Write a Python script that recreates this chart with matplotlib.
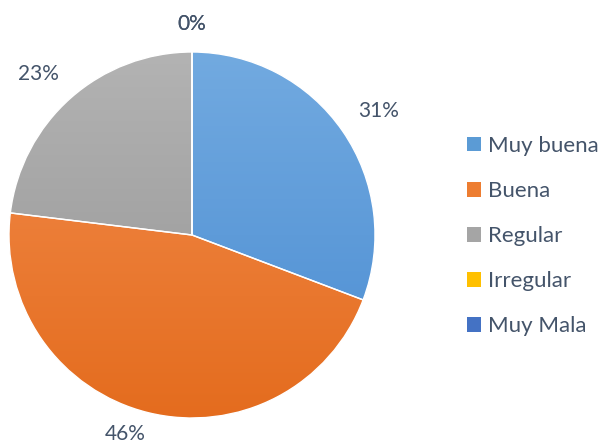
import numpy as np
import matplotlib
matplotlib.use("Agg")
import matplotlib.pyplot as plt
from matplotlib.colors import LinearSegmentedColormap
from matplotlib.patches import Patch

categories = ["Muy buena", "Buena", "Regular", "Irregular", "Muy Mala"]
counts = [4, 6, 3, 0, 0]
# gradient (top, bottom) colours per category
top_colors = ["#72AAE0", "#F38D4E", "#B3B3B3", "#FFCC33", "#5A86D0"]
bottom_colors = ["#4A8CD2", "#E46C1E", "#939393", "#F0B400", "#3563B8"]
legend_colors = ["#5B9BD5", "#ED7D31", "#A5A5A5", "#FFC000", "#4472C4"]

text_color = "#44546A"
font = "Lato"

W, H, DPI = 598, 446, 100
fig = plt.figure(figsize=(W / DPI, H / DPI), dpi=DPI)

# pie geometry in pixels
cx, cy_top, R = 192, 235, 183
cy = H - cy_top
ax = fig.add_axes([0, 0, 400 / W, 1])
ax.axis("off")

total = sum(counts)
wedges, _ = ax.pie(counts, startangle=90, counterclock=False, radius=1.0,
                   wedgeprops=dict(edgecolor="white", linewidth=1.0))

for w, c_top, c_bot in zip(wedges, top_colors, bottom_colors):
    w.set_facecolor("none")
    cmap = LinearSegmentedColormap.from_list("g", [c_top, c_bot])
    grad = np.linspace(0, 1, 256).reshape(-1, 1)
    im = ax.imshow(grad, cmap=cmap, extent=(-1, 1, -1, 1), origin="upper",
                   aspect="auto", zorder=0.5, interpolation="bicubic")
    im.set_clip_path(w)
    w.set_zorder(1)

ax.set_xlim((0 - cx) / R, (400 - cx) / R)
ax.set_ylim((0 - cy) / R, (H - cy) / R)
ax.set_aspect("auto")

# percentage labels at the outside end of each slice
for w, n in zip(wedges, counts):
    ang = np.deg2rad((w.theta1 + w.theta2) / 2)
    c, s = np.cos(ang), np.sin(ang)
    d = 1.1 if s > 0 else 1.065
    ha = "center" if abs(c) < 0.1 else ("left" if c > 0 else "right")
    va = "bottom" if s > 0 else "top"
    pct = f"{round(100 * n / total):.0f}%"
    ax.text(d * c, d * s, pct, ha=ha, va=va,
            fontsize=15, color=text_color, family=font)

handles = [Patch(facecolor=c, edgecolor="none") for c in legend_colors]
fig.legend(handles, categories, loc="upper left",
           bbox_to_anchor=(447 / W, 1 - 116 / H), frameon=False,
           handlelength=0.63, handleheight=0.63, handletextpad=0.3,
           labelspacing=1.13, prop=dict(family=font, size=16),
           labelcolor=text_color)

fig.savefig("out.png", dpi=DPI)
